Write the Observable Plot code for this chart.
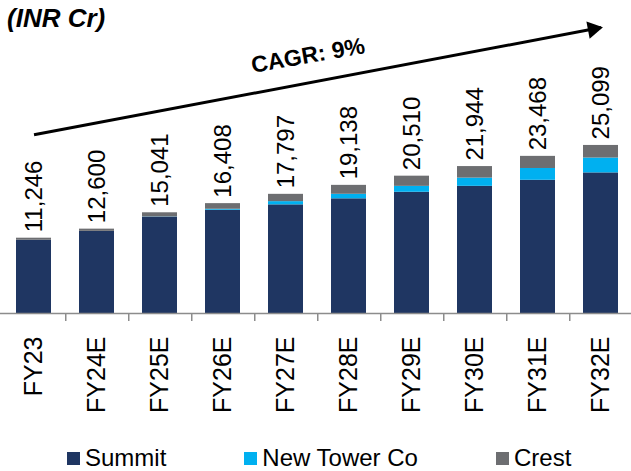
<!DOCTYPE html>
<html>
<head>
<meta charset="utf-8">
<script src="https://cdn.jsdelivr.net/npm/d3@7"></script>
<script src="https://cdn.jsdelivr.net/npm/@observablehq/plot@0.6"></script>
<style>
  html, body { margin: 0; padding: 0; background: #fff; }
  #wrap { position: relative; width: 631px; height: 471px; font-family: "Liberation Sans", Arial, sans-serif; }
  #title { position: absolute; left: 7px; top: 5px; font-size: 26px; line-height: 26px; font-weight: bold; font-style: italic; color: #000; }
  #legend { position: absolute; left: 67px; top: 440px; height: 36px; display: flex; align-items: center; gap: 78px; font-size: 24px; color: #000; }
  .item { display: flex; align-items: center; gap: 5px; }
  .sw { width: 13px; height: 13px; display: inline-block; }
</style>
</head>
<body>
<div id="wrap">
  <div id="chart"></div>
  <div id="title">(INR Cr)</div>
  <div id="legend"></div>
</div>
<script>
const categories = ["FY23","FY24E","FY25E","FY26E","FY27E","FY28E","FY29E","FY30E","FY31E","FY32E"];
const seriesNames = ["Summit","New Tower Co","Crest"];
const seriesColors = ["#1f3662","#00b0f0","#6d6e71"];
const summit     = [10946, 12270, 14391, 15428, 16227, 17128, 18110, 18994, 19898, 20999];
const newTowerCo = [0, 0, 30, 140, 480, 680, 880, 1230, 1760, 2220];
const crest      = [300, 330, 620, 840, 1090, 1330, 1520, 1720, 1810, 1880];
const cagrText = "CAGR: 9%";
const cagrArrow = [{x1: "FY23", y1: 26700, x2: "FY32E", y2: 42700}];
const cagrLabel = [{x: "FY27E", y: 38500, text: cagrText}];

const seriesValues = [summit, newTowerCo, crest];
const rows = [];
seriesNames.forEach((s, j) => categories.forEach((c, i) => rows.push({year: c, series: s, value: seriesValues[j][i]})));
const totals = categories.map((c, i) => ({year: c, total: summit[i] + newTowerCo[i] + crest[i]}));
const fmt = d3.format(",");

const chart = Plot.plot({
  width: 631,
  height: 435,
  marginLeft: 0,
  marginRight: 0,
  marginTop: 5,
  marginBottom: 122,
  style: {fontFamily: '"Liberation Sans", Arial, sans-serif', background: "#fff"},
  x: {domain: categories, range: [-1, 634], paddingInner: 0.45, paddingOuter: 0.225, label: null},
  y: {domain: [0, 46000], axis: null},
  color: {domain: seriesNames, range: seriesColors},
  marks: [
    Plot.barY(rows, {x: "year", y: "value", fill: "series", order: seriesNames}),
    Plot.ruleY([0], {stroke: "#8c8c8c", strokeWidth: 1.5}),
    Plot.axisX({tickSize: 8, dx: 31.75, tickFormat: () => "", stroke: "#8c8c8c", strokeWidth: 1.5}),
    Plot.axisX({tickSize: 0, tickPadding: 23, tickRotate: -90, fontSize: 25, fill: "#000", label: null}),
    Plot.text(totals, {x: "year", y: "total", text: d => fmt(d.total), rotate: -90, textAnchor: "start", dy: -6, fontSize: 24, fill: "#000"}),
    Plot.link(cagrArrow, {x1: "x1", y1: "y1", x2: "x2", y2: "y2", stroke: "#000", strokeWidth: 3}),
    Plot.dot(cagrArrow, {x: "x2", y: "y2", symbol: "triangle", r: 6.5, fill: "#000", stroke: "none", rotate: 79.4, dx: -8, dy: 1.5}),
    Plot.text(cagrLabel, {x: "x", y: "y", text: "text", rotate: -10, dx: 22, fontSize: 23, fontWeight: "bold", fill: "#000"})
  ]
});
document.getElementById("chart").appendChild(chart);

const legend = document.getElementById("legend");
seriesNames.forEach((s, j) => {
  const item = document.createElement("div");
  item.className = "item";
  const sw = document.createElement("span");
  sw.className = "sw";
  sw.style.background = seriesColors[j];
  const t = document.createElement("span");
  t.textContent = s;
  item.appendChild(sw);
  item.appendChild(t);
  legend.appendChild(item);
});
</script>
</body>
</html>
